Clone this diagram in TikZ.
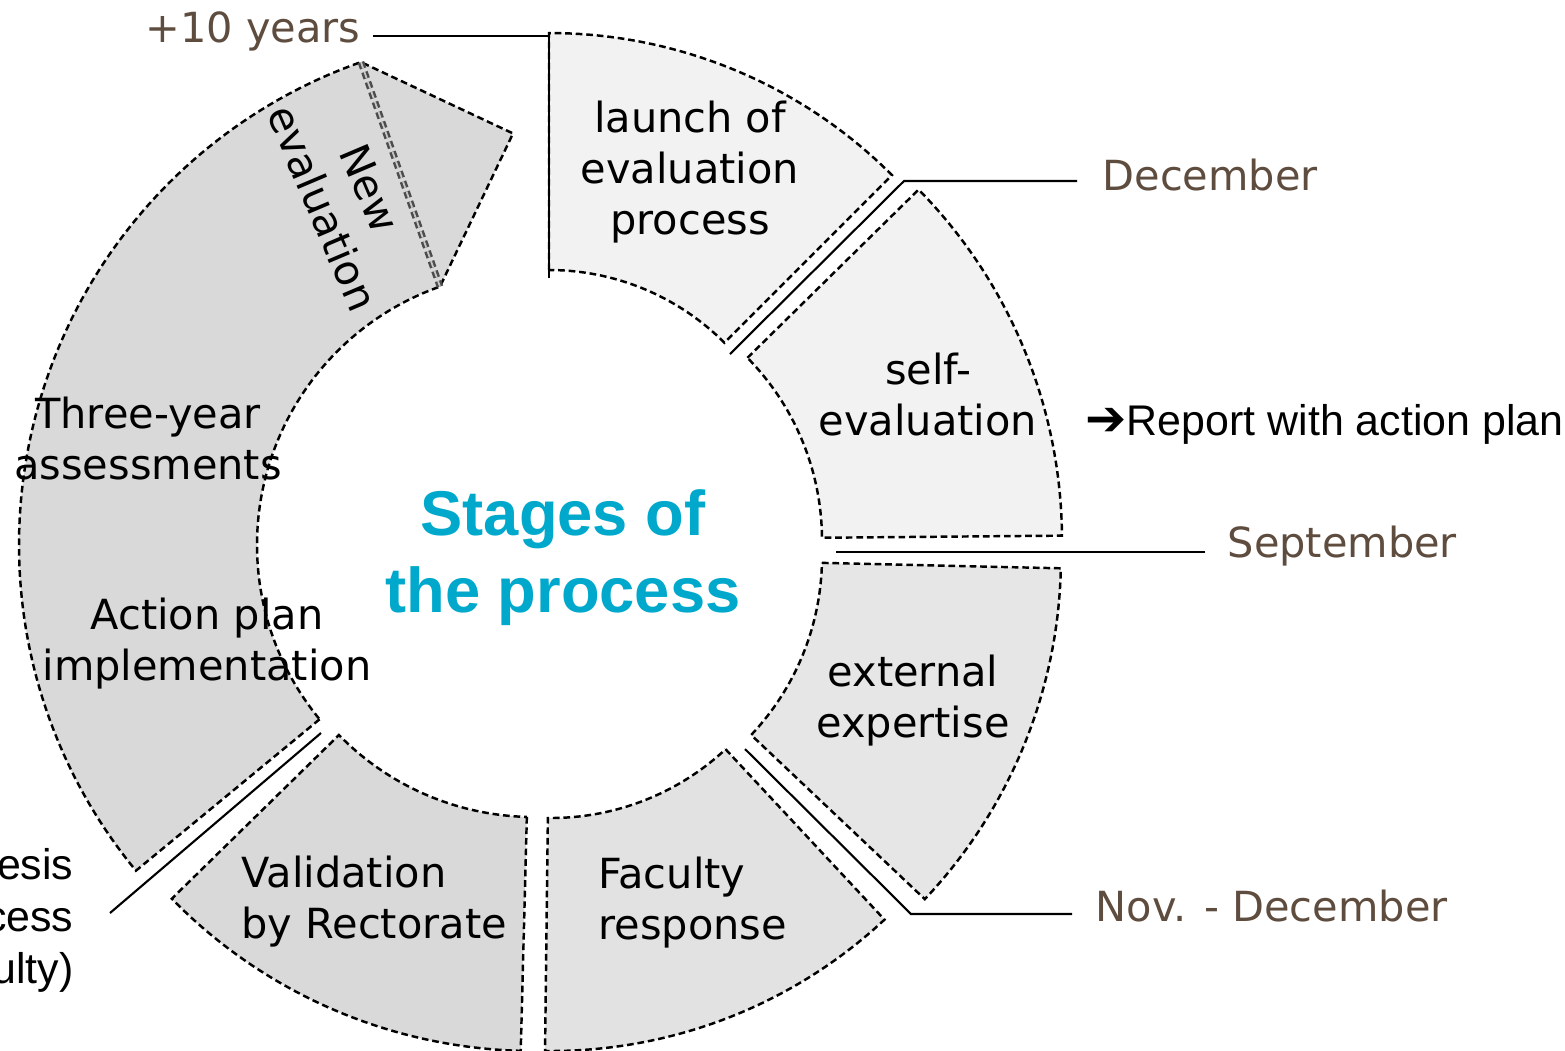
\documentclass[tikz,border=0pt]{standalone}
\usepackage{fontspec}
\setmainfont{DejaVu Sans}
\newfontfamily\arialfont{Liberation Sans}
\definecolor{monthbrown}{RGB}{94,76,62}
\definecolor{titleblue}{RGB}{0,168,204}
\definecolor{palegrey}{HTML}{F2F2F2}
\definecolor{midgrey}{HTML}{E6E6E6}
\definecolor{facgrey}{HTML}{E2E2E2}
\definecolor{darkgrey}{HTML}{D9D9D9}
\tikzset{
    stagebox/.style={draw=black,line width=0.7pt,dash pattern=on 1.9pt off 1.1pt},
    stagetext/.style={font=\fontsize{11.8}{14.5}\selectfont,align=center},
    month/.style={font=\fontsize{11.8}{14.5}\selectfont,text=monthbrown,inner sep=0pt},
    leader/.style={line width=0.6pt}
}
\newcommand{\stage}[7]{
    \begin{scope}[shift={(#2,#3)}]
        \filldraw[stagebox,fill=#1] (#4:#6) -- (#4:#7) arc[start angle=#4,end angle=#5,radius=#7]
            -- (#5:#6) arc[start angle=#5,end angle=#4,radius=#6] -- cycle;
    \end{scope}
}

\begin{document}
\begin{tikzpicture}[x=0.01cm,y=0.01cm]
    \useasboundingbox (0,0) rectangle (1565,-1050);
    \stage{palegrey}{549}{-518}{90}{45}{248}{485}
    \stage{palegrey}{562}{-540}{44.5}{0.5}{260}{500}
    \stage{midgrey}{563}{-557}{-1.3}{-43.4}{259}{498}
    \stage{facgrey}{551}{-562}{-47}{-90.7}{256}{489}
    \stage{darkgrey}{534}{-544}{-91.5}{-135.6}{273}{507}
    \begin{scope}[shift={(531,-545)}]
        \filldraw[stagebox,fill=darkgrey] (219.5:274) -- (219.5:512) arc[start angle=219.5,end angle=109.4,radius=512]
            -- (92.5:412) -- (109.4:274) arc[start angle=109.4,end angle=219.5,radius=274] -- cycle;
        \draw[stagebox,draw=black!70,double=gray!45,double distance=0.5pt] (109.4:512) -- (109.4:274);
    \end{scope}

    \node[stagetext] (launch) at (690,-172) {launch of\\evaluation\\process};
    \node[stagetext] (selfeval) at (928,-395) {self-\\evaluation};
    \node[stagetext] (expertise) at (913,-701) {external\\expertise};
    \node[stagetext,align=left,anchor=west] (response) at (586,-903) {Faculty\\response};
    \node[stagetext,align=left,anchor=west] (validation) at (229,-902) {Validation\\by Rectorate};
    \node[stagetext] (assess) at (148,-439) {Three-year\\assessments};
    \node[stagetext] (actionplan) at (207,-644) {Action plan\\implementation};
    \node[stagetext,rotate=-67] (neweval) at (346,-198) {New\\evaluation};
    \node[font=\arialfont\bfseries\fontsize{18}{21.9}\selectfont,text=titleblue,align=center] (title) at (563,-558) {Stages of\\the process};

    \node[month,anchor=base east] (tenyears) at (361,-42) {+10 years};
    \node[month,anchor=base west] (december) at (1102,-190) {December};
    \node[month,anchor=base west] (september) at (1227,-557) {September};
    \node[month,anchor=base west] (novdec) at (1095,-921) {Nov. - December};
    \node[font=\arialfont\fontsize{12.2}{14.8}\selectfont,anchor=base west,inner sep=0pt] (report) at (1085,-435) {{\rmfamily\bfseries\fontsize{14}{14}\selectfont ➔}Report with action plan};
    \node[font=\arialfont\fontsize{12.2}{14.8}\selectfont,align=right,anchor=east,inner sep=0pt] (synthesis) at (74,-920) {esis\\cess\\ulty)};

    \coordinate (tenstart) at (373,-36);
    \coordinate (tencorner) at (549,-36);
    \coordinate (tenend) at (549,-278);
    \coordinate (decstart) at (1077,-181);
    \coordinate (deccorner) at (904,-181);
    \coordinate (decend) at (730,-354);
    \coordinate (sepstart) at (1205,-552);
    \coordinate (sepend) at (836,-552);
    \coordinate (novstart) at (1072,-914);
    \coordinate (novcorner) at (911,-914);
    \coordinate (novend) at (745,-749);
    \coordinate (synstart) at (110,-913);
    \coordinate (synend) at (321,-733);
    \draw[leader] (tenstart) -- (tencorner) -- (tenend);
    \draw[leader] (decstart) -- (deccorner) -- (decend);
    \draw[leader] (sepstart) -- (sepend);
    \draw[leader] (novstart) -- (novcorner) -- (novend);
    \draw[leader] (synstart) -- (synend);
\end{tikzpicture}
\end{document}
